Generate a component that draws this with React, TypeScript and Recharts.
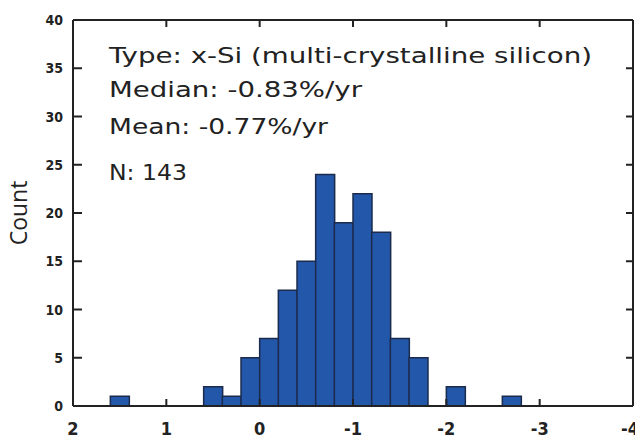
import React from "react";
import { BarChart, Bar, XAxis, YAxis } from "recharts";

// ─── Data (bins of 0.2 %/yr, centres from +1.9 down to -3.9) ─────────────────

const binCentres = [
  1.9, 1.7, 1.5, 1.3, 1.1, 0.9, 0.7, 0.5, 0.3, 0.1,
  -0.1, -0.3, -0.5, -0.7, -0.9, -1.1, -1.3, -1.5, -1.7, -1.9,
  -2.1, -2.3, -2.5, -2.7, -2.9, -3.1, -3.3, -3.5, -3.7, -3.9,
];
const counts = [
  0, 0, 1, 0, 0, 0, 0, 2, 1, 5,
  7, 12, 15, 24, 19, 22, 18, 7, 5, 0,
  2, 0, 0, 1, 0, 0, 0, 0, 0, 0,
];
const xTicks = [2, 1, 0, -1, -2, -3, -4];
const yTicks = [0, 5, 10, 15, 20, 25, 30, 35, 40];
const notes = [
  "Type: x-Si (multi-crystalline silicon)",
  "Median: -0.83%/yr",
  "Mean: -0.77%/yr",
  "N: 143",
];

const data = binCentres.map((c, i) => ({ x: c, count: counts[i] }));

// ─── Layout ──────────────────────────────────────────────────────────────────

const W = 635;
const H = 431;
const M = { top: 12, right: 10, left: 0, bottom: 0 };
const Y_AXIS_W = 65;
const X_AXIS_H = 33;
const PLOT_LEFT = M.left + Y_AXIS_W;
const PLOT_RIGHT = W - M.right;
const PLOT_TOP = M.top;
const PLOT_BOTTOM = H - M.bottom - X_AXIS_H;

const INK = "#222";
const line = { stroke: INK, strokeWidth: 2 };
const tickFontFamily = "'Liberation Sans Narrow', 'DejaVu Sans Condensed', sans-serif";
const noteY = [55, 89, 126, 172];
const noteW = [483, 253, 219, 78];

// inward ticks on all four sides, labels outside; the last ticks close the box
function BottomTick({ x, y, payload }: any) {
  const v = payload.value;
  const inner = v !== 2 && v !== -4;
  return (
    <g>
      {inner && (
        <>
          <line x1={x} x2={x} y1={PLOT_BOTTOM} y2={PLOT_BOTTOM - 7} {...line} />
          <line x1={x} x2={x} y1={PLOT_TOP} y2={PLOT_TOP + 7} {...line} />
        </>
      )}
      {v === -4 && <line x1={x} x2={x} y1={PLOT_TOP} y2={PLOT_BOTTOM} {...line} />}
      <text
        x={x}
        y={y}
        dx={v === -4 ? -3 : 0}
        dy="0.74em"
        textAnchor="middle"
        fontSize={18}
        fontWeight={700}
        fontFamily={tickFontFamily}
        fill={INK}
      >
        {v}
      </text>
    </g>
  );
}

function LeftTick({ x, y, payload }: any) {
  const v = payload.value;
  const inner = v !== 0 && v !== 40;
  return (
    <g>
      {inner && (
        <>
          <line x1={PLOT_LEFT} x2={PLOT_LEFT + 9} y1={y} y2={y} {...line} />
          <line x1={PLOT_RIGHT} x2={PLOT_RIGHT - 7} y1={y} y2={y} {...line} />
        </>
      )}
      {v === 40 && <line x1={PLOT_LEFT} x2={PLOT_RIGHT} y1={y} y2={y} {...line} />}
      <text
        x={x}
        y={y}
        dy="0.36em"
        textAnchor="end"
        fontSize={14}
        fontWeight={700}
        fontFamily={tickFontFamily}
        fill={INK}
      >
        {v}
      </text>
    </g>
  );
}

function CountLabel({ viewBox }: any) {
  const cx = viewBox.x + 10;
  const cy = viewBox.y + viewBox.height / 2;
  return (
    <text
      x={cx}
      y={cy}
      transform={`rotate(-90 ${cx} ${cy})`}
      textAnchor="middle"
      dominantBaseline="central"
      fontSize={23}
      fontFamily="'Open Sans', sans-serif"
      fill={INK}
    >
      Count
    </text>
  );
}

export default function App() {
  return (
    <div style={{ position: "relative", width: W, height: H }}>
      <BarChart
        width={W}
        height={H}
        data={data}
        margin={M}
        barCategoryGap={0}
        barGap={0}
      >
        <XAxis
          dataKey="x"
          type="number"
          domain={[-4, 2]}
          reversed
          ticks={xTicks}
          interval={0}
          allowDataOverflow
          height={X_AXIS_H}
          tickSize={0}
          tickMargin={16}
          tickLine={false}
          axisLine={line}
          tick={<BottomTick />}
        />
        <YAxis
          domain={[0, 40]}
          ticks={yTicks}
          interval={0}
          width={Y_AXIS_W}
          tickSize={0}
          tickMargin={10}
          tickLine={false}
          axisLine={line}
          tick={<LeftTick />}
          label={<CountLabel />}
        />
        <Bar
          dataKey="count"
          fill="#2257a9"
          stroke="#1c2b4c"
          strokeWidth={1.5}
          isAnimationActive={false}
        />
      </BarChart>
      <svg
        width={W}
        height={H}
        style={{ position: "absolute", left: 0, top: 0, pointerEvents: "none" }}
      >
        {notes.map((t, i) => (
          <text
            key={t}
            x={101}
            y={noteY[i]}
            fontSize={22}
            fontFamily="'DejaVu Sans', sans-serif"
            textLength={noteW[i]}
            lengthAdjust="spacingAndGlyphs"
            fill={INK}
          >
            {t}
          </text>
        ))}
      </svg>
    </div>
  );
}
